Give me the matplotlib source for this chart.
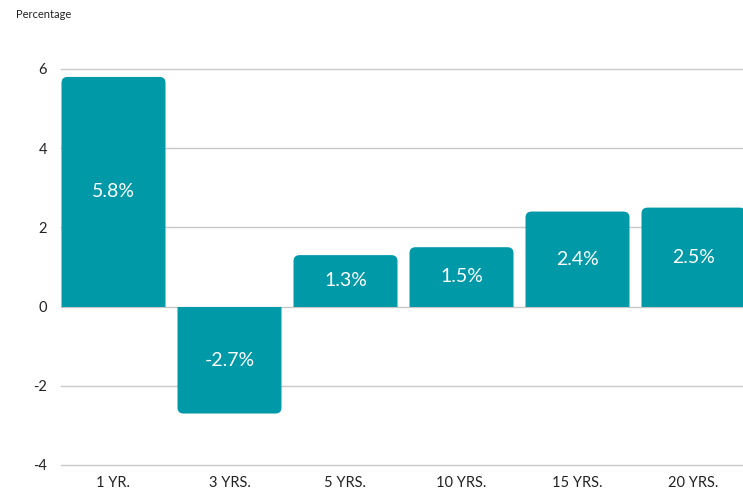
import matplotlib
matplotlib.use("Agg")
import matplotlib.pyplot as plt
from matplotlib.patches import FancyBboxPatch, Rectangle

categories = ["1 YR.", "3 YRS.", "5 YRS.", "10 YRS.", "15 YRS.", "20 YRS."]
values = [5.8, -2.7, 1.3, 1.5, 2.4, 2.5]
labels = ["5.8%", "-2.7%", "1.3%", "1.5%", "2.4%", "2.5%"]
yticks = [-4, -2, 0, 2, 4, 6]

plt.rcParams['font.family'] = ['Lato', 'DejaVu Sans']
W, H = 743, 491
fig = plt.figure(figsize=(W / 100, H / 100), dpi=100)
left_px, right_px = 61, 743
top_px, bot_px = 69, 465
ax = fig.add_axes([left_px / W, 1 - bot_px / H, (right_px - left_px) / W, (bot_px - top_px) / H])

pxu_x = 116.0
xmin = -(113.5 - left_px) / pxu_x
xmax = xmin + (right_px - left_px) / pxu_x
ax.set_xlim(xmin, xmax)
ax.set_ylim(-4, 6)
pxu_y = (bot_px - top_px) / 10.0

color = "#0099a8"
bw = 104 / pxu_x
r_px = 6
rx = r_px / pxu_x
aspect = (r_px / pxu_y) / rx
ry = r_px / pxu_y

for i, (v, lab) in enumerate(zip(values, labels)):
    x0 = i - bw / 2
    if v >= 0:
        y0, h = -2 * ry, v + 2 * ry
        clip = Rectangle((x0 - 1, 0), bw + 2, v + 1, transform=ax.transData)
    else:
        y0, h = v, -v + 2 * ry
        clip = Rectangle((x0 - 1, v - 1), bw + 2, -v + 1, transform=ax.transData)
    p = FancyBboxPatch((x0, y0), bw, h,
                       boxstyle=f"round,pad=0,rounding_size={rx}",
                       mutation_aspect=aspect, facecolor=color, edgecolor="none",
                       zorder=3)
    ax.add_patch(p)
    p.set_clip_path(clip)
    ax.text(i, v / 2, lab, ha="center", va="center",
            color="white", fontsize=14, fontweight="normal", zorder=4)

ax.set_yticks(yticks)
ax.set_yticklabels([str(t) for t in yticks])
ax.set_xticks(range(len(categories)))
ax.set_xticklabels(categories)
ax.grid(axis="y", color="#c8c8c8", linewidth=1, zorder=0)
for gl in ax.get_ygridlines():
    gl.set_clip_on(False)
ax.set_axisbelow(True)
for s in ax.spines.values():
    s.set_visible(False)
ax.tick_params(axis="both", length=0, labelsize=10.5, colors="#222222")
ax.tick_params(axis="y", pad=10)
ax.tick_params(axis="x", pad=8)

fig.text(16 / W, 1 - 14 / H, "Percentage", fontsize=8, color="#222222",
         ha="left", va="center")

fig.savefig("out.png", dpi=100)
